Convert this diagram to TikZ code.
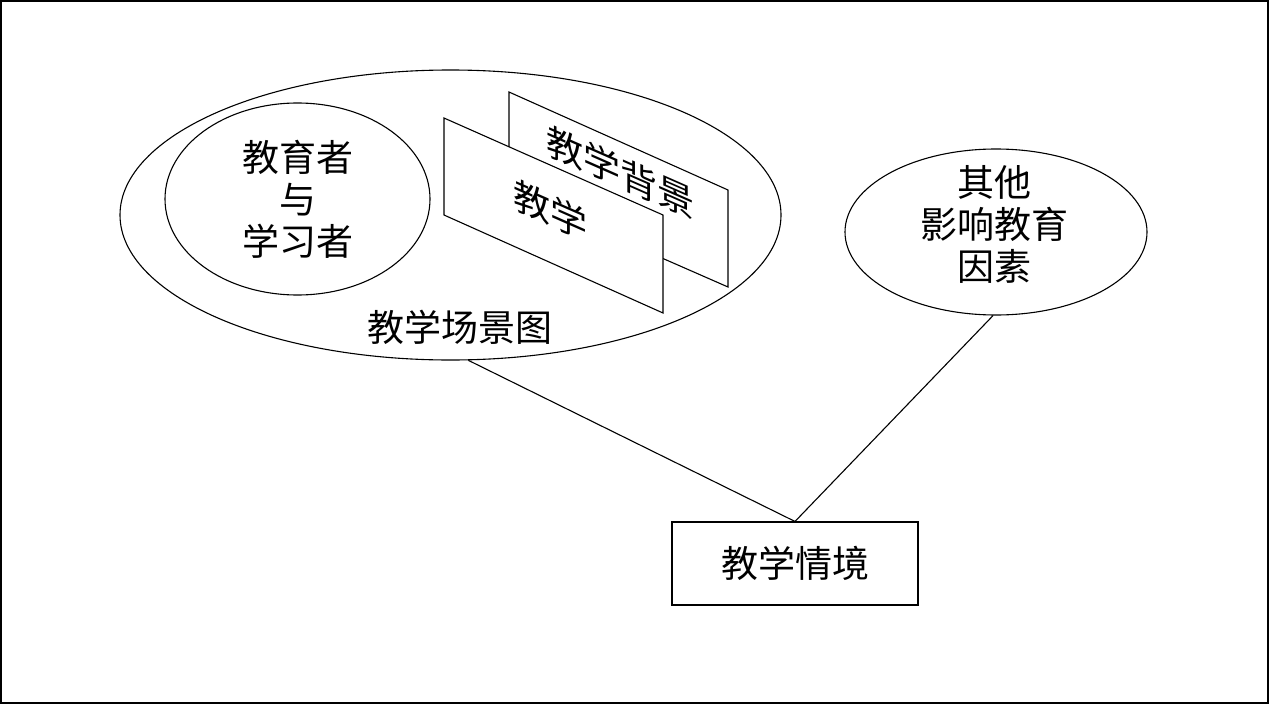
\documentclass[tikz,border=0pt]{standalone}
\usepackage{fontspec}
\newfontfamily\cjk{Noto Sans CJK SC}
\usetikzlibrary{shapes.geometric}

\tikzset{
  zh/.style={font=\cjk\fontsize{37}{42}\selectfont, align=center, inner sep=0pt},
  oval/.style={ellipse, draw, inner sep=0pt},
  panel/.style={draw, fill=white, line join=miter}
}

\begin{document}
\begin{tikzpicture}[x=1pt, y=-1pt, line width=1.1pt]

\useasboundingbox (0,0) rectangle (1269,704);
\draw[line width=1.6pt] (0.8,0.8) rectangle (1268.2,703.2);

% teaching scene
\node[oval, minimum width=661, minimum height=290] (scene) at (450.5,215) {};
\node[zh] (scenelabel) at (460,327) {教学场景图};
\node[oval, zh, minimum width=265, minimum height=192] (people) at (297.5,199)
  {教育者\\与\\学习者};

% back panel
\draw[panel] (509,92) -- (728,190) -- (728,287) -- (509,191) -- cycle;
\node[zh, yslant=-0.44, transform shape] (backtext) at (620,172) {教学背景};

% front panel
\draw[panel] (444,118) -- (663,215) -- (663,313) -- (444,215) -- cycle;
\node[zh, yslant=-0.44, transform shape] (fronttext) at (550,210) {教学};

% other factors
\node[oval, minimum width=302, minimum height=166] (other) at (996,232) {};
\node[zh] (othertext) at (994,224) {其他\\影响教育\\因素};

% situation
\node[draw, zh, minimum width=246, minimum height=83] (situation) at (795,563.5) {教学情境};

\draw (scene.-83) -- (situation.north) -- (other.-92);

\end{tikzpicture}
\end{document}
